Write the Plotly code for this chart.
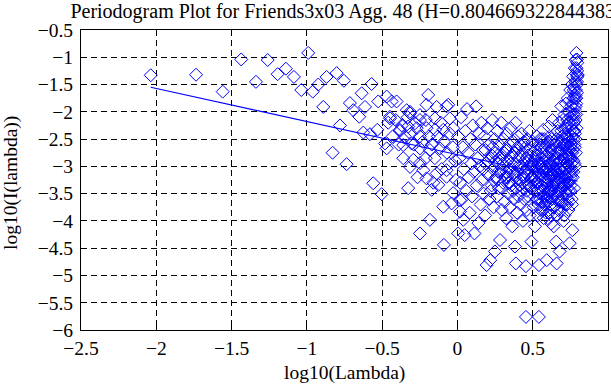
import plotly.graph_objects as go

# sparse low-frequency periodogram points (log10 lambda, log10 I)
low_x = [-2.037, -1.736, -1.559, -1.436, -1.338, -1.260, -1.194, -1.139, -1.086, -1.037,
         -0.961, -0.924, -0.991, -0.891, -0.869, -0.802, -0.754, -0.780, -0.829, -0.736,
         -0.570, -0.636, -0.714, -0.692, -0.652, -0.614, -0.526, -0.470, -0.437, -0.404,
         -0.448, -0.625, -0.581, -0.532, -0.559, -0.503, -0.470, -0.481, -0.382, -0.327,
         -0.337, -0.315, -0.249, -0.194, -0.205, -0.183, -0.249, -0.090, 0.005]
low_y = [-1.33, -1.32, -1.63, -1.04, -1.45, -1.05, -1.31, -1.21, -1.36, -1.60,
         -1.63, -1.50, -0.92, -1.91, -1.36, -1.29, -1.43, -2.25, -2.75, -2.96,
         -1.49, -1.66, -1.84, -1.97, -2.09, -1.91, -1.81, -1.72, -1.81, -1.81,
         -2.12, -2.38, -2.41, -2.33, -3.31, -3.51, -2.67, -2.58, -2.35, -3.40,
         -1.97, -2.00, -2.06, -1.69, -1.87, -3.98, -4.23, -4.44, -4.23]

# middle-frequency points
mid_x = [-0.448, -0.315, -0.138, -0.061, -0.249, -0.149, -0.050, -0.382, -0.327, -0.282,
         -0.205, -0.149, -0.094, -0.028, -0.360, -0.304, -0.249, -0.183, -0.116, -0.293,
         -0.315, -0.227, -0.138, -0.072, -0.249, -0.205, -0.127, -0.072, -0.171, -0.028,
         -0.094, -0.039, 0.017, 0.039, 0.017, -0.072,
         -0.46, -0.43, -0.41, -0.39, -0.37, -0.35, -0.33, -0.31, -0.29, -0.27,
         -0.25, -0.23, -0.21, -0.19, -0.17, -0.15, -0.13, -0.11, -0.09, -0.07,
         -0.05, -0.03, -0.015, -0.01, -0.055, -0.105, -0.16, -0.21, -0.36, -0.265]
mid_y = [-2.09, -2.03, -1.91, -1.87, -2.15, -2.12, -2.12, -2.33, -2.27, -2.21,
         -2.30, -2.33, -2.33, -2.30, -2.61, -2.58, -2.67, -2.70, -2.67, -2.88,
         -3.01, -3.07, -3.13, -3.07, -2.94, -3.22, -3.34, -3.19, -3.43, -3.49,
         -3.74, -3.68, -3.62, -3.98, -3.83, -1.90,
         -2.20, -2.45, -2.15, -2.60, -2.25, -2.45, -2.10, -2.40, -2.60, -2.30,
         -2.45, -2.55, -2.15, -2.45, -2.60, -2.85, -2.45, -2.20, -2.55, -2.75,
         -2.40, -2.65, -2.90, -3.25, -2.95, -3.05, -3.30, -2.85, -2.85, -3.20]

# dense points, 0 < log10(lambda) < 0.5
hiA_x = [0.005, 0.012, 0.018, 0.024, 0.030, 0.036, 0.042, 0.048, 0.053, 0.059,
         0.064, 0.070, 0.075, 0.081, 0.086, 0.092, 0.097, 0.102, 0.108, 0.113,
         0.118, 0.124, 0.129, 0.134, 0.139, 0.144, 0.149, 0.154, 0.159, 0.164,
         0.169, 0.174, 0.179, 0.184, 0.189, 0.194, 0.198, 0.203, 0.208, 0.213,
         0.218, 0.222, 0.227, 0.231, 0.236, 0.240, 0.245, 0.249, 0.254, 0.258,
         0.262, 0.266, 0.270, 0.275, 0.279, 0.283, 0.287, 0.291, 0.295, 0.299,
         0.303, 0.307, 0.311, 0.315, 0.319, 0.323, 0.327, 0.331, 0.334, 0.338,
         0.342, 0.346, 0.350, 0.353, 0.357, 0.361, 0.364, 0.368, 0.372, 0.375,
         0.379, 0.382, 0.386, 0.389, 0.393, 0.396, 0.400, 0.403, 0.406, 0.410,
         0.413, 0.416, 0.419, 0.423, 0.426, 0.429, 0.432, 0.435, 0.438, 0.441,
         0.444, 0.447, 0.450, 0.453, 0.455, 0.458, 0.461, 0.464, 0.467, 0.469,
         0.472, 0.475, 0.478, 0.480, 0.483, 0.486, 0.488, 0.491, 0.494, 0.497,
         0.205, 0.220, 0.235, 0.250, 0.265, 0.280, 0.295, 0.310, 0.325, 0.340,
         0.355, 0.370, 0.385, 0.400, 0.415, 0.430, 0.445, 0.460, 0.475, 0.490,
         0.455, 0.388,
         0.302, 0.318, 0.333, 0.348, 0.362, 0.377, 0.391, 0.405, 0.418, 0.433,
         0.448, 0.462, 0.476, 0.489, 0.256, 0.271, 0.229, 0.243, 0.187, 0.172]
hiA_y = [-2.45, -2.85, -3.30, -2.10, -3.60, -2.65, -3.05, -4.26, -2.35, -3.45,
         -1.95, -2.75, -3.20, -3.85, -2.50, -2.95, -3.55, -2.25, -3.10, -4.23,
         -2.60, -1.90, -3.35, -2.85, -4.04, -2.40, -3.00, -3.70, -2.20, -3.25,
         -2.70, -3.50, -2.45, -3.90, -2.95, -4.81, -2.30, -3.15, -2.60, -3.60,
         -4.72, -2.85, -3.35, -2.15, -3.05, -3.75, -2.50, -4.56, -2.75, -3.20,
         -3.55, -2.35, -2.95, -3.40, -2.60, -4.35, -3.10, -2.20, -3.80, -2.80,
         -3.30, -2.50, -3.00, -3.65, -2.70, -3.95, -2.40, -3.20, -2.90, -3.50,
         -2.60, -3.05, -3.75, -2.30, -3.35, -2.80, -4.10, -3.15, -2.55, -3.60,
         -2.95, -4.47, -2.20, -3.40, -2.70, -3.85, -3.10, -2.45, -3.55, -2.85,
         -3.25, -2.60, -3.70, -3.00, -2.40, -3.45, -2.75, -4.00, -3.20, -2.55,
         -3.60, -2.90, -3.35, -2.65, -4.83, -3.05, -3.80, -2.50, -3.30, -2.80,
         -3.55, -3.10, -2.35, -3.90, -2.70, -3.40, -2.95, -4.38, -3.20, -2.60,
         -2.90, -3.45, -2.65, -3.00, -3.25, -2.85, -3.40, -2.75, -3.10, -3.30,
         -2.95, -3.45, -3.15, -2.65, -3.35, -3.05, -3.20, -2.85, -3.35, -3.00,
         -5.76, -4.78,
         -2.95, -3.20, -2.70, -3.30, -3.05, -2.75, -3.25, -3.00, -2.80, -3.30,
         -3.10, -3.45, -2.90, -3.25, -2.90, -3.10, -2.80, -3.25, -2.70, -3.05]

# dense points, 0.5 < log10(lambda) < 0.8
hiB_x = [0.500, 0.503, 0.506, 0.509, 0.512, 0.515, 0.518, 0.521, 0.524, 0.527,
         0.530, 0.533, 0.536, 0.539, 0.541, 0.544, 0.547, 0.550, 0.553, 0.556,
         0.559, 0.562, 0.565, 0.568, 0.570, 0.573, 0.576, 0.579, 0.582, 0.585,
         0.588, 0.590, 0.593, 0.596, 0.599, 0.601, 0.604, 0.607, 0.610, 0.612,
         0.615, 0.618, 0.620, 0.623, 0.626, 0.628, 0.631, 0.634, 0.636, 0.639,
         0.641, 0.644, 0.646, 0.649, 0.651, 0.654, 0.656, 0.659, 0.661, 0.663,
         0.666, 0.668, 0.670, 0.673, 0.675, 0.677, 0.679, 0.682, 0.684, 0.686,
         0.688, 0.690, 0.693, 0.695, 0.697, 0.699, 0.701, 0.703, 0.705, 0.707,
         0.709, 0.711, 0.713, 0.715, 0.717, 0.719, 0.721, 0.723, 0.725, 0.727,
         0.729, 0.731, 0.733, 0.735, 0.737, 0.739, 0.741, 0.743, 0.745, 0.747,
         0.749, 0.750, 0.752, 0.754, 0.755, 0.757, 0.759, 0.760, 0.762, 0.763,
         0.765, 0.766, 0.768, 0.769, 0.771, 0.772, 0.774, 0.775, 0.776, 0.777,
         0.779, 0.780, 0.781, 0.782, 0.783, 0.784, 0.785, 0.786, 0.787, 0.788,
         0.789, 0.790, 0.791, 0.792, 0.793, 0.794, 0.795, 0.796, 0.797, 0.7976,
         0.520, 0.535, 0.550, 0.565, 0.580, 0.595, 0.610, 0.625, 0.640, 0.655,
         0.670, 0.685, 0.700, 0.715, 0.730, 0.745, 0.760, 0.775, 0.515, 0.545,
         0.560, 0.575, 0.590, 0.605, 0.620, 0.635, 0.650, 0.665, 0.680, 0.695,
         0.710, 0.725, 0.740, 0.755, 0.770, 0.785, 0.500, 0.530, 0.600, 0.640,
         0.541, 0.659]
hiB_y = [-2.55, -3.20, -3.75, -2.90, -3.45, -4.10, -2.70, -3.05, -3.60, -2.45,
         -3.30, -3.90, -2.80, -3.15, -4.81, -2.60, -3.50, -3.00, -3.80, -2.75,
         -3.35, -2.50, -3.65, -3.10, -2.33, -3.95, -2.90, -3.40, -2.65, -3.20,
         -3.70, -2.80, -4.72, -3.05, -2.55, -3.55, -3.25, -2.27, -3.85, -2.95,
         -3.45, -2.70, -3.15, -4.05, -2.50, -3.60, -2.15, -3.00, -3.35, -2.80,
         -3.75, -2.60, -3.20, -2.40, -3.50, -2.90, -4.38, -3.10, -2.55, -3.90,
         -2.35, -3.30, -2.75, -3.65, -2.20, -3.05, -4.56, -2.60, -3.45, -2.90,
         -3.80, -1.90, -2.45, -3.20, -2.70, -3.55, -2.15, -3.00, -4.00, -2.50,
         -3.35, -2.05, -2.85, -3.70, -2.30, -3.15, -1.85, -2.60, -3.50, -2.95,
         -2.15, -3.30, -1.75, -2.50, -3.80, -2.80, -2.00, -3.10, -4.41, -2.35,
         -1.60, -2.65, -3.45, -1.90, -2.95, -2.25, -3.60, -1.50, -2.75, -4.17,
         -2.05, -3.20, -1.35, -2.50, -1.75, -2.90, -2.20, -3.40, -1.55, -2.60,
         -1.20, -1.95, -2.40, -1.45, -3.00, -1.70, -2.15, -1.05, -2.75, -1.30,
         -1.85, -0.92, -2.30, -1.50, -1.04, -1.65, -1.25, -1.36, -1.32, -1.33,
         -3.30, -2.95, -3.60, -3.05, -3.55, -3.35, -3.10, -3.45, -3.05, -3.30,
         -3.15, -3.25, -3.35, -3.05, -2.65, -2.85, -2.45, -2.05, -2.85, -3.25,
         -2.85, -3.70, -3.00, -2.75, -3.70, -3.55, -2.75, -3.55, -2.90, -2.55,
         -2.60, -2.25, -3.30, -3.10, -2.35, -1.90, -2.95, -3.60, -3.95, -4.10,
         -5.76, -4.78]

# extra dense core points, 0.5 < log10(lambda) < 0.8
hiC_x = [0.546, 0.552, 0.557, 0.563, 0.568, 0.574, 0.578, 0.583, 0.587, 0.592,
         0.597, 0.602, 0.606, 0.611, 0.616, 0.621, 0.625, 0.629, 0.633, 0.638,
         0.642, 0.647, 0.652, 0.657, 0.662, 0.667, 0.671, 0.676, 0.681, 0.685,
         0.689, 0.694, 0.698, 0.702, 0.706, 0.710, 0.714, 0.718, 0.722, 0.726,
         0.730, 0.734, 0.738, 0.742, 0.746, 0.750, 0.753, 0.757, 0.761, 0.764,
         0.767, 0.770, 0.773, 0.776, 0.778, 0.781, 0.784, 0.787, 0.789, 0.791,
         0.555, 0.571, 0.586, 0.603, 0.618, 0.632, 0.648, 0.664, 0.678, 0.692,
         0.708, 0.720, 0.732, 0.744, 0.756, 0.768, 0.780, 0.790, 0.794, 0.796,
         0.505, 0.513, 0.522, 0.531, 0.538, 0.549, 0.561, 0.577, 0.594, 0.609,
         0.624, 0.637, 0.653, 0.669, 0.683, 0.699, 0.712, 0.728, 0.740, 0.752]
hiC_y = [-2.95, -3.40, -2.65, -3.80, -3.25, -2.75, -3.55, -3.00, -3.85, -2.60,
         -3.30, -2.90, -3.65, -3.20, -2.55, -3.90, -2.95, -3.35, -2.70, -3.75,
         -3.15, -2.85, -3.60, -2.50, -3.25, -2.95, -3.80, -2.70, -3.40, -3.05,
         -2.35, -3.65, -2.85, -3.30, -2.60, -3.90, -2.40, -3.45, -2.75, -3.20,
         -2.45, -3.60, -2.20, -3.00, -2.55, -3.35, -2.10, -2.85, -3.70, -1.85,
         -2.70, -3.10, -1.60, -2.35, -2.95, -1.75, -2.50, -1.60, -2.05, -1.20,
         -3.15, -3.45, -3.30, -3.45, -3.00, -3.15, -3.45, -2.75, -3.20, -3.10,
         -3.05, -2.95, -2.85, -2.70, -2.60, -2.15, -2.65, -1.75, -1.45, -1.10,
         -3.00, -3.25, -2.80, -3.45, -3.70, -2.50, -3.00, -2.50, -3.60, -3.45,
         -3.20, -2.90, -3.05, -3.45, -3.65, -3.40, -3.25, -3.70, -3.45, -3.20]

# fitted regression line (slope 1-2H)
fit_x = [-2.037, 0.7976]
fit_y = [-1.55, -3.27]

title_text = "Periodogram Plot for Friends3x03 Agg. 48 (H=0.804669322844383)"
x_title = "log10(Lambda)"
y_title = "log10(I(lambda))"

pts_x = list(low_x) + list(mid_x) + list(hiA_x) + list(hiB_x) + list(hiC_x)
pts_y = list(low_y) + list(mid_y) + list(hiA_y) + list(hiB_y) + list(hiC_y)

FONT = "Liberation Serif"
FS = 19.5

fig = go.Figure()
fig.add_trace(go.Scatter(x=pts_x, y=pts_y, mode="markers",
                         marker=dict(symbol="diamond-open", size=10, color="#0000ff",
                                     line=dict(width=1, color="#0000ff"))))
fig.add_trace(go.Scatter(x=fit_x, y=fit_y, mode="lines",
                         line=dict(color="#0000ff", width=1.2)))

axis_common = dict(showgrid=True, gridcolor="black", griddash="6px,4px", gridwidth=1,
                   zeroline=False, showline=True, linecolor="black", linewidth=1,
                   mirror="ticks", ticks="inside", ticklen=5, tickcolor="black",
                   automargin=False,
                   tickfont=dict(family=FONT, size=FS, color="black"))

fig.update_layout(
    width=611, height=385,
    margin=dict(l=81, r=3, t=30, b=55),
    plot_bgcolor="white", paper_bgcolor="white",
    showlegend=False,
    font=dict(family=FONT, size=FS, color="black"),
    title=dict(text=title_text, x=346 / 611, xanchor="center", xref="container",
               y=1 - 11 / 385, yanchor="middle", yref="container",
               font=dict(family=FONT, size=20, color="black")),
    xaxis=dict(range=[-2.5, 1], tick0=-2.5, dtick=0.5, ticklabelstandoff=1,
               **axis_common),
    yaxis=dict(range=[-6, -0.5], tick0=-6, dtick=0.5, ticklabelstandoff=3,
               **axis_common),
    annotations=[
        dict(text=x_title, xref="paper", yref="paper", x=(344 - 81) / 527,
             y=(330 - 373) / 300, xanchor="center", yanchor="middle", showarrow=False,
             font=dict(family=FONT, size=FS, color="black")),
        dict(text=y_title, xref="paper", yref="paper", x=(11 - 81) / 527,
             y=(330 - 183) / 300, xanchor="center", yanchor="middle", showarrow=False,
             textangle=-90, font=dict(family=FONT, size=FS, color="black")),
    ],
)

fig.write_html("out.html", config={"displayModeBar": False},
               post_script="document.body.style.margin='0';document.body.style.overflow='hidden';")
